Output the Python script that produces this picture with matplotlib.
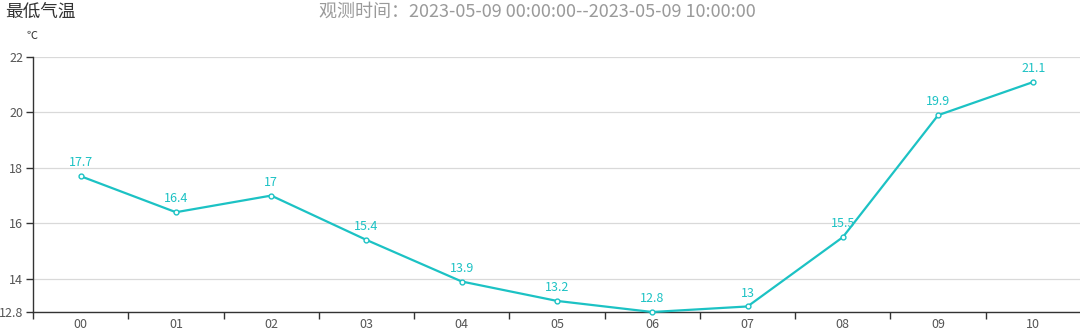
import matplotlib
matplotlib.use("Agg")
import matplotlib.pyplot as plt
from matplotlib.ticker import FixedLocator, NullFormatter

plt.rcParams['font.family'] = ['Noto Sans CJK SC', 'DejaVu Sans']

hours = ["00", "01", "02", "03", "04", "05", "06", "07", "08", "09", "10"]
temps = [17.7, 16.4, 17, 15.4, 13.9, 13.2, 12.8, 13, 15.5, 19.9, 21.1]
labels = ["17.7", "16.4", "17", "15.4", "13.9", "13.2", "12.8", "13", "15.5", "19.9", "21.1"]
yticks = [12.8, 14, 16, 18, 20, 22]
title = "最低气温"
subtitle = "观测时间：2023-05-09 00:00:00--2023-05-09 10:00:00"
unit = "℃"

W, H = 1080, 335
fig = plt.figure(figsize=(W / 100, H / 100), dpi=100)
ax = fig.add_axes([33 / W, 1 - 312 / H, (1081 - 33) / W, (312 - 57) / H])

color = "#1cc2c4"
x = list(range(len(hours)))
ax.plot(x, temps, color=color, lw=1.6, marker='o', ms=3.5, mfc='white', mec=color, mew=1.0, zorder=3, clip_on=False)
for xi, yi, lab in zip(x, temps, labels):
    ax.annotate(lab, (xi, yi), xytext=(0, 5), textcoords='offset points', ha='center', va='bottom',
                fontsize=9, color=color)

ax.set_xlim(-0.5, len(hours) - 0.5)
ax.set_ylim(12.8, 22)
ax.set_yticks(yticks)
ax.set_yticklabels([("%g" % v) for v in yticks])
ax.yaxis.grid(True, color="#d9d9d9", lw=0.9)
ax.set_axisbelow(True)

ax.set_xticks(x)
ax.set_xticklabels(hours)
ax.tick_params(axis='x', which='major', length=0, pad=4, labelsize=9, labelcolor="#555555")
ax.xaxis.set_minor_locator(FixedLocator([i - 0.5 for i in range(len(hours) + 1)]))
ax.xaxis.set_minor_formatter(NullFormatter())
ax.tick_params(axis='x', which='minor', length=5, color="#333333", width=1)
ax.tick_params(axis='y', length=5, color="#333333", width=1, labelsize=9, labelcolor="#555555", pad=2)

for s in ['top', 'right']:
    ax.spines[s].set_visible(False)
for s in ['left', 'bottom']:
    ax.spines[s].set_color("#333333")
    ax.spines[s].set_linewidth(1.0)

fig.text(5 / W, 1 - 12 / H, title, fontsize=12.7, color="#333333", ha='left', va='center')
fig.text(537 / W, 1 - 12 / H, subtitle, fontsize=13, color="#9a9a9a", ha='center', va='center')
fig.text(32 / W, 1 - 36 / H, unit, fontsize=8, color="#333333", ha='center', va='center')

fig.savefig("out.png", dpi=100)
